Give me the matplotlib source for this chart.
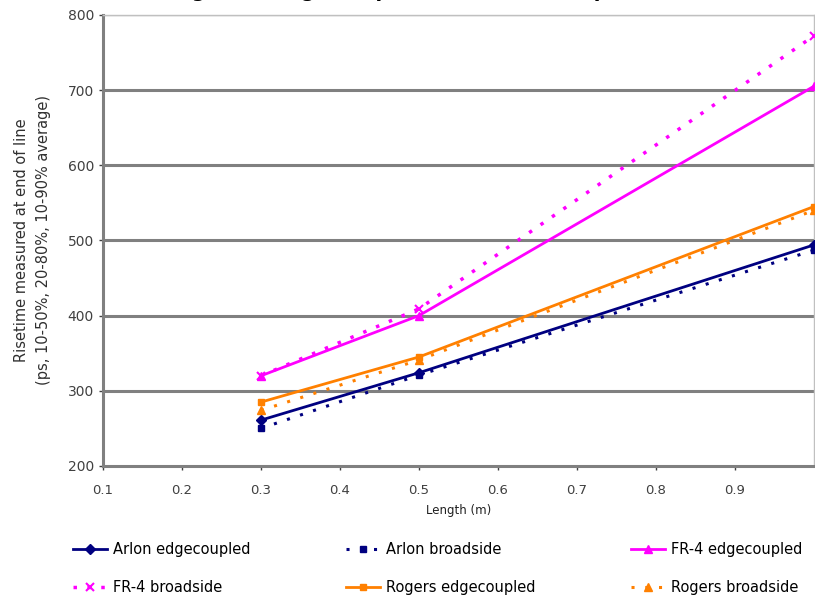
import matplotlib.pyplot as plt

# Data: risetime (ps) vs line length (m)
lengths = [0.3, 0.5, 1.0]
arlon_edge = [261, 324, 494]
arlon_broad = [250, 321, 487]
fr4_edge = [320, 400, 705]
fr4_broad = [320, 409, 772]
rogers_edge = [285, 345, 545]
rogers_broad = [274, 341, 540]

x_ticks = [0.1, 0.2, 0.3, 0.4, 0.5, 0.6, 0.7, 0.8, 0.9]
y_ticks = [200, 300, 400, 500, 600, 700, 800]

navy = '#000080'
magenta = '#FF00FF'
orange = '#FF8000'

fig = plt.figure(figsize=(8.15, 6.03), dpi=100)
fig.patch.set_facecolor('white')
ax = fig.add_axes([0.1264, 0.2272, 0.872, 0.748])

# Horizontal gridlines, Excel style
for yv in y_ticks[1:-1]:
    ax.axhline(yv, color='#808080', linewidth=2.2, zorder=1)
ax.axhline(800, color='#C0C0C0', linewidth=1.0, zorder=1)

h_ae, = ax.plot(lengths, arlon_edge, color=navy, lw=2, marker='D', ms=5,
                label='Arlon edgecoupled', zorder=3)
h_ab, = ax.plot(lengths, arlon_broad, color=navy, lw=2.2, ls=(0, (1, 3.5)), marker='s', ms=5,
                label='Arlon broadside', zorder=3)
h_fe, = ax.plot(lengths, fr4_edge, color=magenta, lw=2, marker='^', ms=6,
                label='FR-4 edgecoupled', zorder=3)
h_fb, = ax.plot(lengths, fr4_broad, color=magenta, lw=2.5, ls=(0, (1, 3)), marker='x', ms=6,
                mew=1.5, label='FR-4 broadside', zorder=3)
h_re, = ax.plot(lengths, rogers_edge, color=orange, lw=2, marker='s', ms=5,
                label='Rogers edgecoupled', zorder=3)
h_rb, = ax.plot(lengths, rogers_broad, color=orange, lw=2.2, ls=(0, (1, 3.5)), marker='^', ms=6,
                label='Rogers broadside', zorder=3)

ax.set_xlim(0.1, 1.0)
ax.set_ylim(200, 800)
ax.set_xticks(x_ticks)
ax.set_xticklabels([f'{t:.1f}' for t in x_ticks])
ax.set_yticks(y_ticks)

for s in ['top', 'right']:
    ax.spines[s].set_color('#C0C0C0')
    ax.spines[s].set_linewidth(1.0)
ax.spines['left'].set_color('#808080')
ax.spines['left'].set_linewidth(2.2)
ax.spines['bottom'].set_color('#808080')
ax.spines['bottom'].set_linewidth(2.2)

ax.tick_params(axis='both', colors='#404040', length=3, width=1)
ax.tick_params(axis='y', labelsize=10)
ax.tick_params(axis='x', labelsize=9.5, pad=10)

ax.set_xlabel('Length (m)', fontsize=8.5, color='#202020', labelpad=5)
ax.set_ylabel('Risetime measured at end of line\n(ps, 10-50%, 20-80%, 10-90% average)',
              fontsize=10.5, color='#303030', labelpad=12, linespacing=1.6)

# Title clipped by the top edge of the image, as in the source
fig.text(0.5, 1.005, '(Risetime vs. Length for edge-coupled and broadside pairs, all laminates)',
         ha='center', va='baseline', fontsize=14, fontweight='bold')

handles = [h_ae, h_fb, h_ab, h_re, h_fe, h_rb]
fig.legend(handles=handles, labels=[h.get_label() for h in handles],
           ncol=3, loc='lower center', bbox_to_anchor=(0.537, -0.008),
           frameon=False, fontsize=10.5, handlelength=2.3, columnspacing=6.6,
           labelspacing=1.55, handletextpad=0.4)

fig.savefig('out.png', dpi=100, facecolor='white')
